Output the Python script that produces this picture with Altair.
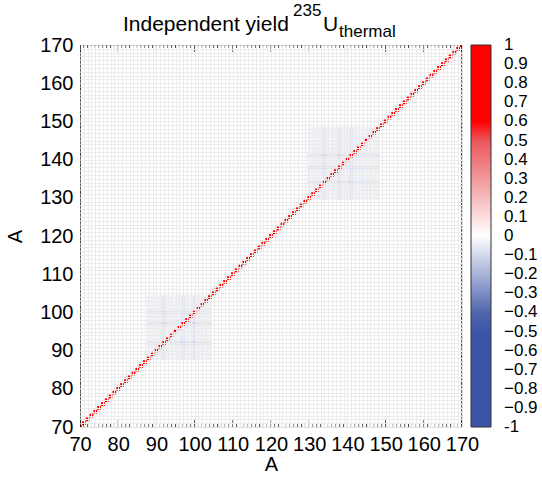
import altair as alt
import pandas as pd

# ---------------- data ----------------
mass_numbers = list(range(70, 171))
axis_ticks = [70, 80, 90, 100, 110, 120, 130, 140, 150, 160, 170]
diag_value = 1.0
# faint negative correlation blocks (light / heavy fragment peaks)
block_ranges = [(88, 104), (130, 148)]
block_level = [-0.035, -0.035]
stripe_A = [92, 97, 100, 134, 138, 141]
stripe_level = -0.07
cross_level = -0.12
cbar_ticks = [-1.0, -0.9, -0.8, -0.7, -0.6, -0.5, -0.4, -0.3, -0.2, -0.1, 0.0,
              0.1, 0.2, 0.3, 0.4, 0.5, 0.6, 0.7, 0.8, 0.9, 1.0]
color_stops = [-1.0, -0.45, 0.0, 0.58, 0.6, 1.0]
color_range = ["#3b54a5", "#3b54a5", "#ffffff", "#e63a40", "#ff0000", "#ff0000"]

title_main = "Independent yield "
title_sup = "235"
title_el = "U"
title_sub = "thermal"

rows = []
for a in mass_numbers:
    rows.append({"Ax": a, "Ay": a, "v": diag_value})
for (lo, hi), base in zip(block_ranges, block_level):
    for i in range(lo, hi + 1):
        for j in range(lo, hi + 1):
            if i == j:
                continue
            si, sj = i in stripe_A, j in stripe_A
            v = cross_level if (si and sj) else (stripe_level if (si or sj) else base)
            rows.append({"Ax": i, "Ay": j, "v": v})
cells = pd.DataFrame(rows)
cells["x0"] = cells["Ax"] - 0.5
cells["x1"] = cells["Ax"] + 0.5
cells["y0"] = cells["Ay"] - 0.5
cells["y1"] = cells["Ay"] + 0.5

ticks_df = pd.DataFrame({"A": mass_numbers})

FONT = "Liberation Sans"
W = H = 382
dom = [axis_ticks[0], axis_ticks[-1]]
xscale = alt.Scale(domain=dom, nice=False, zero=False)
yscale = alt.Scale(domain=dom, nice=False, zero=False)

x_axis = alt.Axis(values=axis_ticks, format="d", ticks=False, grid=False, domain=False,
                  labelFont=FONT, labelFontSize=20, labelColor="black", labelPadding=7,
                  labelOverlap=False, labelFlush=False, title="A", titleFont=FONT,
                  titleFontSize=20, titleFontWeight="normal", titleColor="black",
                  titlePadding=0)
y_axis = alt.Axis(values=axis_ticks, format="d", ticks=False, grid=False, domain=False,
                  labelFont=FONT, labelFontSize=20, labelColor="black", labelPadding=7,
                  labelOverlap=False, labelFlush=False, title="A", titleFont=FONT,
                  titleFontSize=20, titleFontWeight="normal", titleColor="black",
                  titlePadding=14)
grid_vals = mass_numbers[1:-1]
x_grid_axis = alt.Axis(orient="top", values=grid_vals, labels=False, ticks=False, domain=False,
                       grid=True, gridColor="#ebebeb", gridWidth=1, title=None, zindex=1)
y_grid_axis = alt.Axis(orient="right", values=grid_vals, labels=False, ticks=False, domain=False,
                       grid=True, gridColor="#ebebeb", gridWidth=1, title=None, zindex=1)

LEG_X = 391
LEG_THICK = 20
LEG_LABEL_OFF = 13
LEG_FS = 17

heat = alt.Chart(cells).mark_rect(clip=True).encode(
    x=alt.X("x0:Q", scale=xscale, axis=x_axis),
    x2="x1:Q",
    y=alt.Y("y0:Q", scale=yscale, axis=y_axis),
    y2="y1:Q",
    color=alt.Color("v:Q",
                    scale=alt.Scale(domain=color_stops, range=color_range, interpolate="rgb"),
                    legend=alt.Legend(values=cbar_ticks[1:-1], format=".1~f", orient="none",
                                      legendX=LEG_X, legendY=0, direction="vertical",
                                      gradientLength=H, gradientThickness=LEG_THICK, title=None,
                                      padding=0, labelFont=FONT, labelFontSize=LEG_FS,
                                      labelColor="black", labelOffset=LEG_LABEL_OFF,
                                      labelOverlap=False,
                                      gradientStrokeColor="#333333", gradientStrokeWidth=1)),
)

# end labels of the colour bar (drawn separately so they stay centred on the ends)
end_labels = alt.Chart(pd.DataFrame({"t": [f"{cbar_ticks[-1]:g}", f"{cbar_ticks[0]:g}"],
                                     "pos": [0, H]})).mark_text(
    align="left", baseline="middle", font=FONT, fontSize=LEG_FS, color="black"
).encode(text="t:N", x=alt.value(LEG_X + LEG_THICK + LEG_LABEL_OFF),
         y=alt.Y("pos:Q", scale=None, axis=None))

tick_len = "datum.A % 10 == 0 ? 14 : 6"
tick_mark = dict(color="black", thickness=1, clip=True)

t_bottom = alt.Chart(ticks_df).transform_calculate(len=tick_len).mark_tick(**tick_mark).encode(
    x=alt.X("A:Q", scale=xscale, axis=None),
    y=alt.YDatum(dom[0], scale=yscale, axis=None),
    size=alt.Size("len:Q", scale=None, legend=None),
)
t_top = alt.Chart(ticks_df).transform_calculate(len=tick_len).mark_tick(**tick_mark).encode(
    x=alt.X("A:Q", scale=xscale, axis=x_grid_axis),
    y=alt.YDatum(dom[1], scale=yscale, axis=None),
    size=alt.Size("len:Q", scale=None, legend=None),
)
t_left = alt.Chart(ticks_df).transform_calculate(len=tick_len).mark_tick(**tick_mark).encode(
    y=alt.Y("A:Q", scale=yscale, axis=None),
    x=alt.XDatum(dom[0], scale=xscale, axis=None),
    size=alt.Size("len:Q", scale=None, legend=None),
)
t_right = alt.Chart(ticks_df).transform_calculate(len=tick_len).mark_tick(**tick_mark).encode(
    y=alt.Y("A:Q", scale=yscale, axis=y_grid_axis),
    x=alt.XDatum(dom[1], scale=xscale, axis=None),
    size=alt.Size("len:Q", scale=None, legend=None),
)


def title_part(txt, x, y, size):
    return alt.Chart(pd.DataFrame({"t": [txt]})).mark_text(
        align="left", baseline="alphabetic", font=FONT, fontSize=size, color="black"
    ).encode(text="t:N", x=alt.value(x), y=alt.value(y))


titles = (title_part(title_main, 43, -14, 21) + title_part(title_sup, 213, -29, 17)
          + title_part(title_el, 243, -14, 21) + title_part(title_sub, 259, -8, 17))

chart = alt.layer(heat, t_bottom, t_top, t_left, t_right, end_labels, titles).resolve_axis(
    x="independent", y="independent"
).properties(
    width=W, height=H,
    autosize=alt.AutoSizeParams(type="none"),
    padding={"left": 80, "top": 45, "right": 80, "bottom": 50},
).configure_view(stroke="black", strokeWidth=1, fill="white").configure(background="white")

chart.save("out.html", embed_options={"renderer": "svg", "actions": False})
